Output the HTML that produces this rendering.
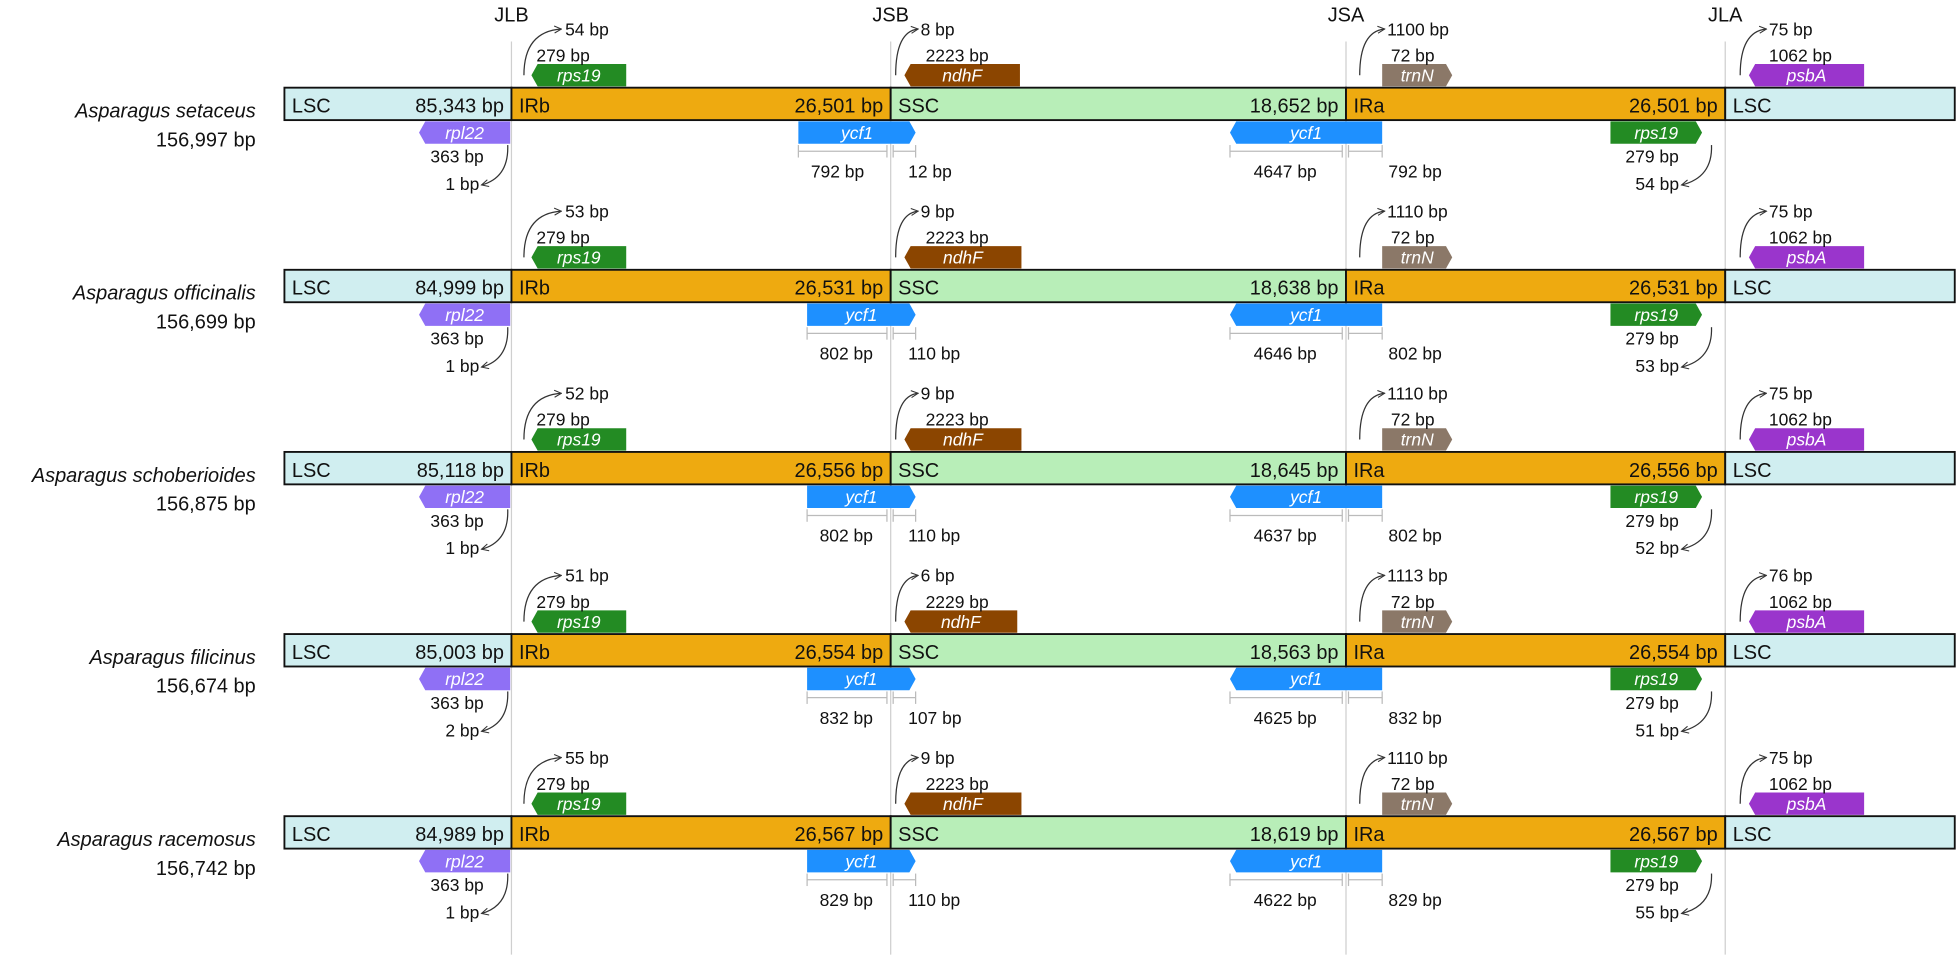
<!DOCTYPE html>
<html><head><meta charset="utf-8"><style>
html,body{margin:0;padding:0;background:#fff}
svg{display:block}
text{font-family:"Liberation Sans",sans-serif}
</style></head><body>
<svg id="chart" width="1956" height="955" viewBox="0 0 1568 765" xmlns="http://www.w3.org/2000/svg">
<defs><marker id="ah" viewBox="0 0 10 10" refX="9" refY="5" markerWidth="7" markerHeight="7" orient="auto"><path d="M1 1L9 5L1 9" fill="none" stroke="#333" stroke-width="1.2"/></marker></defs>
</svg>
<script>
const species=["Asparagus setaceus","Asparagus officinalis","Asparagus schoberioides","Asparagus filicinus","Asparagus racemosus"];
const totals=["156,997","156,699","156,875","156,674","156,742"];
const lscLen=["85,343","84,999","85,118","85,003","84,989"];
const irLen=["26,501","26,531","26,556","26,554","26,567"];
const sscLen=["18,652","18,638","18,645","18,563","18,619"];
const jlbTop=[54,53,52,51,55];
const rps19Len=[279,279,279,279,279];
const jsbTop=[8,9,9,6,9];
const ndhFLen=[2223,2223,2223,2229,2223];
const jsaTop=[1100,1110,1110,1113,1110];
const trnNLen=[72,72,72,72,72];
const jlaTop=[75,75,75,76,75];
const psbALen=[1062,1062,1062,1062,1062];
const rpl22Len=[363,363,363,363,363];
const jlbBot=[1,1,1,2,1];
const ycf1L=[792,802,802,832,829];
const jsbBot=[12,110,110,107,110];
const ycf1R=[4647,4646,4637,4625,4622];
const junctions=["JLB","JSB","JSA","JLA"];

const S=document.getElementById('chart');const NS="http://www.w3.org/2000/svg";
function mk(tag,at,parent){const e=document.createElementNS(NS,tag);for(const k in at)e.setAttribute(k,at[k]);(parent||S).appendChild(e);return e;}
function tx(x,y,s,o){o=o||{};const e=mk('text',{x:x,y:y,'font-size':o.fs||14,fill:o.fill||'#111','text-anchor':o.anchor||'start','font-style':o.it?'italic':'normal'});e.textContent=s;return e;}
const X={jlb:410,jsb:714,jsa:1079,jla:1383,l:228,r:1568};
[X.jlb,X.jsb,X.jsa,X.jla].forEach((x,i)=>{
  const l=mk('line',{x1:x,y1:33,x2:x,y2:765,stroke:'#cfcfcf','stroke-width':1});
  
  
  const t=tx(x,17,junctions[i],{fs:16,anchor:'middle'});
  
  
});
function gene(name,x1,x2,y,dir,color,label){
  const h=18,tip=5;let pts;
  if(dir<0)pts=[[x1+tip,y],[x2,y],[x2,y+h],[x1+tip,y+h],[x1,y+h/2]];
  else pts=[[x1,y],[x2-tip,y],[x2,y+h/2],[x2-tip,y+h],[x1,y+h]];
  const g=mk('g',{});
  
  
  mk('polygon',{points:pts.map(p=>p.join(',')).join(' '),fill:color},g);
  const t=mk('text',{x:(x1+x2)/2,y:y+14,'font-size':14,fill:'#fff','text-anchor':'middle','font-style':'italic'},g);
  t.textContent=label;
}
function arc(d){const p=mk('path',{d:d,fill:'none',stroke:'#333','stroke-width':1,'marker-end':'url(#ah)'});}
function bracket(x1,x2,y){const g=mk('g',{stroke:'#bbb','stroke-width':1});mk('line',{x1:x1,y1:y,x2:x2,y2:y},g);mk('line',{x1:x1,y1:y-5,x2:x1,y2:y+5},g);mk('line',{x1:x2,y1:y-5,x2:x2,y2:y+5},g);}
species.forEach((sp,i)=>{
  const o=146*i, by=70+o, bh=26;
  const n=tx(205,by+24,sp,{fs:16,anchor:'end',it:true});
  
  
  const tt=tx(205,by+47,totals[i]+' bp',{fs:16,anchor:'end'});
  
  
  const segs=[['lsc',X.l,X.jlb,'#d0eef0','LSC',lscLen[i]],['irb',X.jlb,X.jsb,'#eeaa10','IRb',irLen[i]],['ssc',X.jsb,X.jsa,'#b8eeb8','SSC',sscLen[i]],['ira',X.jsa,X.jla,'#eeaa10','IRa',irLen[i]],['lsc2',X.jla,X.r-1,'#d0eef0','LSC',null]];
  segs.forEach(s=>{
    const r=mk('rect',{x:s[1],y:by,width:s[2]-s[1],height:bh,fill:s[3],stroke:'#111','stroke-width':1.5});
    
    
    tx(s[1]+6,by+20,s[4],{fs:16});
    if(s[5])tx(s[2]-6,by+20,s[5]+' bp',{fs:16,anchor:'end'});
  });
  const gy=by-19;
  gene('gene-rps19-jlb',426,502,gy,-1,'#238b23','rps19');
  arc(`M420 ${by-10} Q420 ${by-45} 450 ${by-47}`);
  tx(453,by-42,jlbTop[i]+' bp');tx(430,by-21,rps19Len[i]+' bp');
  const ndhEnd=725+ndhFLen[i]/24+(jsbTop[i]-8)*1.2;
  gene('gene-ndhf',725,ndhEnd,gy,-1,'#8b4500','ndhF');
  arc(`M718 ${by-10} Q718 ${by-45} 736 ${by-47}`);
  tx(738,by-42,jsbTop[i]+' bp');tx(742,by-21,ndhFLen[i]+' bp');
  gene('gene-trnn',1108,1108+trnNLen[i]*0.78,gy,1,'#8b7868','trnN');
  arc(`M1090 ${by-10} Q1090 ${by-45} 1110 ${by-47}`);
  tx(1112,by-42,jsaTop[i]+' bp');tx(1115,by-21,trnNLen[i]+' bp');
  gene('gene-psba',1402,1402+psbALen[i]/11.5,gy,-1,'#9a35cc','psbA');
  arc(`M1395 ${by-10} Q1395 ${by-45} 1416 ${by-47}`);
  tx(1418,by-42,jlaTop[i]+' bp');tx(1418,by-21,psbALen[i]+' bp');
  const ly=by+bh+1;
  gene('gene-rpl22',X.jlb-rpl22Len[i]/4.9,X.jlb-1,ly,-1,'#8f70f5','rpl22');
  tx(345,by+60,rpl22Len[i]+' bp');tx(357,by+82,jlbBot[i]+' bp');
  arc(`M407 ${by+46} Q408 ${by+72} 386 ${by+78}`);
  const yL=X.jsb+20-(94-Math.min(7,(ycf1L[i]-792)*0.7));
  gene('gene-ycf1-jsb',yL,X.jsb+20,ly,1,'#1e90ff','ycf1');
  bracket(yL,X.jsb-3,by+51);bracket(X.jsb+2,X.jsb+20,by+51);
  tx(yL+10,by+72,ycf1L[i]+' bp');tx(X.jsb+14,by+72,jsbBot[i]+' bp');
  gene('gene-ycf1-jsa',986,X.jsa+29,ly,-1,'#1e90ff','ycf1');
  bracket(986,X.jsa-3,by+51);bracket(X.jsa+2,X.jsa+29,by+51);
  tx(1005,by+72,ycf1R[i]+' bp');tx(1113,by+72,ycf1L[i]+' bp');
  gene('gene-rps19-jla',1291,1291+rps19Len[i]/3.8,ly,1,'#238b23','rps19');
  tx(1303,by+60,rps19Len[i]+' bp');tx(1311,by+82,jlbTop[i]+' bp');
  arc(`M1372 ${by+46} Q1373 ${by+72} 1348 ${by+78}`);
});
</script>
</body></html>
